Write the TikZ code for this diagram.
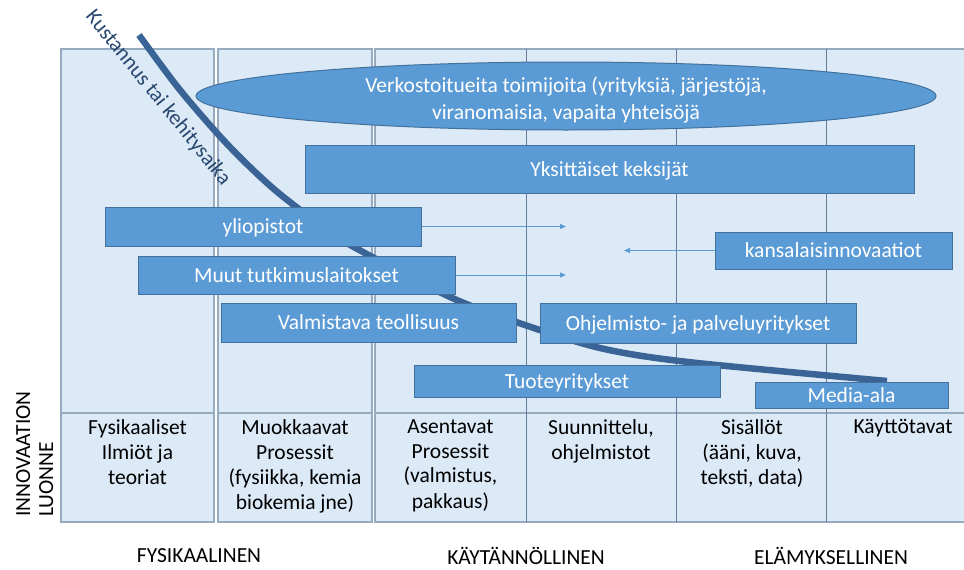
\documentclass[tikz,border=0pt]{standalone}
\usepackage{fontspec}
\setmainfont{Carlito}
\usetikzlibrary{arrows.meta,shapes.geometric}
\definecolor{cellfill}{RGB}{220,233,246}
\definecolor{cellline}{RGB}{150,170,192}
\definecolor{gridline}{RGB}{100,125,155}
\definecolor{boxfill}{RGB}{91,155,213}
\definecolor{boxline}{RGB}{65,113,156}
\definecolor{curveblue}{RGB}{58,100,150}
\definecolor{labelblue}{RGB}{40,72,112}

\begin{document}
\begin{tikzpicture}[x=1pt,y=-1pt,
  actor/.style={draw=boxline, line width=1pt, fill=boxfill, text=white,
    font=\fontsize{21.5}{27}\selectfont, inner sep=0pt, align=center,
    text height=18pt, text depth=4pt},
  actortext/.style={text=white, font=\fontsize{21.5}{27}\selectfont, inner sep=0pt, align=center},
  cell/.style={font=\fontsize{21.5}{25}\selectfont, align=center, anchor=north, inner sep=0pt},
  flow/.style={draw=boxfill, line width=1pt, -{Triangle[length=6pt,width=5pt]}},
  axislabel/.style={font=\fontsize{21.5}{25}\selectfont, inner sep=0pt},
  panel/.style={draw=cellline, line width=1.2pt, fill=cellfill}]

\useasboundingbox (0,0) rectangle (964,570);
\fill[white] (0,0) rectangle (964,570);

% column panels
\draw[panel] (61,49) rectangle (214,522);
\draw[panel] (218,49) rectangle (372,522);
\draw[panel] (375,49) rectangle (966,522);
\draw[cellline, line width=1.2pt] (61,413) -- (214,413);
\draw[cellline, line width=1.2pt] (218,413) -- (372,413);
\draw[cellline, line width=1.2pt] (375,413) -- (966,413);
\foreach \gx in {526,676,826}
  \draw[gridline, line width=0.8pt] (\gx,49) -- (\gx,522);

% cost / development time curve
\draw[curveblue, line width=6.5pt] plot[smooth, tension=0.5] coordinates
  {(139,35) (180,90) (228,145) (275,190) (330,232) (363,252) (450,297)
   (519,323) (600,348) (688,362) (887,381)};
\node[rotate=-51, text=labelblue, axislabel] (costlabel) at (158,98) {Kustannus tai kehitysaika};

% actors
\node[actor, ellipse, minimum width=740pt, minimum height=68pt] (network) at (566,96) {};
\node[actortext] (networktext) at (566,100)
  {Verkostoitueita toimijoita (yrityksiä, järjestöjä,\\viranomaisia, vapaita yhteisöjä};
\node[actor, minimum width=609pt, minimum height=48pt] (inventors) at (609.5,169) {Yksittäiset keksijät};
\node[actor, minimum width=316pt, minimum height=39pt] (univ) at (263,226.5) {yliopistot};
\node[actor, minimum width=317pt, minimum height=38pt] (research) at (296.5,275) {Muut tutkimuslaitokset};
\node[actor, minimum width=295pt, minimum height=39pt] (manuf) at (368.5,322.5) {Valmistava teollisuus};
\node[actor, minimum width=316pt, minimum height=40pt] (software) at (698,323) {Ohjelmisto- ja palveluyritykset};
\node[actor, minimum width=237pt, minimum height=37pt] (citizens) at (833.5,250.5) {kansalaisinnovaatiot};
\node[actor, minimum width=306pt, minimum height=32pt] (products) at (567,381) {Tuoteyritykset};
\node[actor, minimum width=193pt, minimum height=26pt] (media) at (851.5,395) {Media-ala};

% flows
\coordinate (univtip) at (566,227);
\coordinate (restip) at (566,275);
\coordinate (cittip) at (624,251);
\draw[flow] (univ.east) -- (univ.east -| univtip);
\draw[flow] (research.east) -- (research.east -| restip);
\draw[flow] (citizens.west) -- (citizens.west -| cittip);

% nature of innovation row
\node[cell] (c1) at (137.5,419) {Fysikaaliset\\Ilmiöt ja\\teoriat};
\node[cell] (c2) at (295,419) {Muokkaavat\\Prosessit\\(fysiikka, kemia\\biokemia jne)};
\node[cell] (c3) at (450.5,419) {Asentavat\\Prosessit\\(valmistus,\\pakkaus)};
\node[cell] (c4) at (601,419) {Suunnittelu,\\ohjelmistot};
\node[cell] (c5) at (752,419) {Sisällöt\\(ääni, kuva,\\teksti, data)};
\node[cell] (c6) at (903,419) {Käyttötavat};

% axis labels
\node[axislabel, rotate=90, anchor=base west] (innov) at (30,517) {INNOVAATION};
\node[axislabel, rotate=90, anchor=base west] (nature) at (53,517) {LUONNE};
\node[axislabel] (phys) at (199,556) {FYSIKAALINEN};
\node[axislabel] (pract) at (526,556) {KÄYTÄNNÖLLINEN};
\node[axislabel] (exper) at (831,556) {ELÄMYKSELLINEN};
\end{tikzpicture}
\end{document}
